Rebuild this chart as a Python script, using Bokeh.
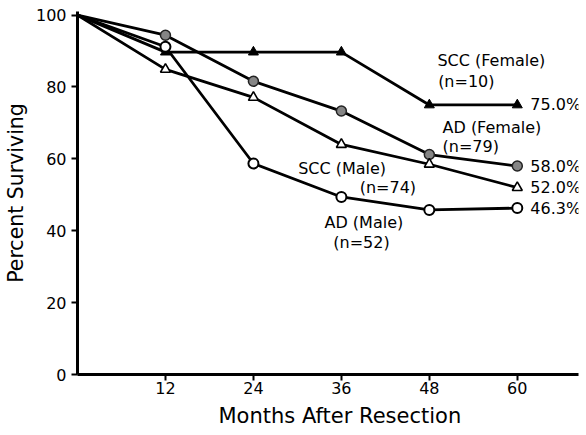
from bokeh.plotting import figure
from bokeh.models import Range1d, FixedTicker, Title
from bokeh.core.properties import value
from bokeh.embed import file_html
from bokeh.resources import INLINE

months = [0, 12, 24, 36, 48, 60]
scc_female = [100, 89.7, 89.7, 89.7, 75.0, 75.0]
ad_female = [100, 94.4, 81.6, 73.3, 61.2, 58.0]
scc_male = [100, 84.9, 77.1, 64.0, 58.5, 52.0]
ad_male = [100, 91.2, 58.7, 49.4, 45.8, 46.3]
end_labels = ["75.0%", "58.0%", "52.0%", "46.3%"]

x_ticks = [12, 24, 36, 48, 60]
y_ticks = [0, 20, 40, 60, 80, 100]

# series name label anchors (layout positions, data units)
name_texts = ["SCC (Female)", "(n=10)", "AD (Female)", "(n=79)",
              "SCC (Male)", "(n=74)", "AD (Male)", "(n=52)"]
name_x = [49.1, 49.2, 49.8, 49.8, 30.1, 38.5, 33.7, 34.9]
name_y = [87.5, 81.6, 68.8, 63.5, 57.4, 52.1, 42.3, 36.8]

FONT = "DejaVu Sans"

p = figure(width=586, height=435, output_backend="svg", toolbar_location=None,
           x_range=Range1d(0, 68.35), y_range=Range1d(0, 101),
           min_border_left=77, min_border_right=8, min_border_top=11, min_border_bottom=61)
p.outline_line_color = None
p.xgrid.visible = False
p.ygrid.visible = False
p.background_fill_color = "white"

for ax in (p.xaxis[0], p.yaxis[0]):
    ax.axis_line_width = 3
    ax.axis_line_color = "black"
    ax.major_tick_line_width = 2
    ax.major_tick_in = 0
    ax.major_tick_out = 6
    ax.minor_tick_line_color = None
    ax.major_label_text_font = FONT
    ax.major_label_text_font_size = "16px"
    ax.major_label_text_color = "black"
    ax.axis_label_text_font = FONT
    ax.axis_label_text_font_style = "normal"
    ax.axis_label_text_color = "black"

p.xaxis.ticker = FixedTicker(ticks=x_ticks)
p.yaxis.ticker = FixedTicker(ticks=y_ticks)
p.yaxis.axis_label = "Percent Surviving"
p.yaxis.axis_label_text_font_size = "20.5px"
p.xaxis.major_label_standoff = 1
p.yaxis.major_label_standoff = 5
p.yaxis.axis_label_standoff = 5

xtitle = Title(text="Months After Resection", align="left", offset=141,
               text_font=FONT, text_font_size="21px", text_font_style="normal",
               text_color="black", standoff=10)
p.add_layout(xtitle, "below")

series = [scc_female, ad_female, scc_male, ad_male]
for s in series:
    p.line(months, s, line_color="black", line_width=2.8)

p.scatter(months[1:], scc_female[1:], marker="triangle", size=10,
          fill_color="black", line_color="black", line_width=1)
p.scatter(months[1:], ad_female[1:], marker="circle", size=10,
          fill_color="#858585", line_color="#222222", line_width=1.5)
p.scatter(months[1:], scc_male[1:], marker="triangle", size=10,
          fill_color="white", line_color="black", line_width=1.6)
p.scatter(months[1:], ad_male[1:], marker="circle", size=10,
          fill_color="white", line_color="black", line_width=2)

p.text([months[-1]] * 4, [s[-1] for s in series], text=end_labels,
       x_offset=13, text_baseline="middle", text_align="left",
       text_font=value(FONT), text_font_size="16px", text_color="black")

p.text(name_x, name_y, text=name_texts, text_baseline="middle", text_align="left",
       text_font=value(FONT), text_font_size="16px", text_color="black")

open("out.html", "w").write(file_html(p, INLINE))
